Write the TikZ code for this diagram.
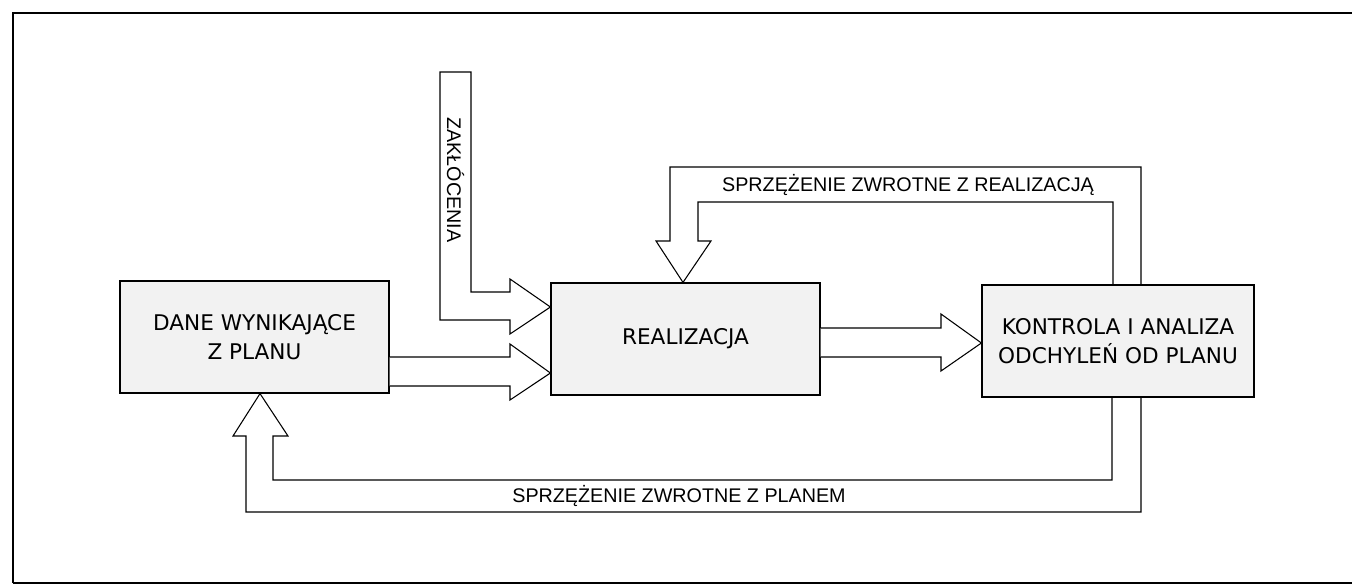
\documentclass[tikz,border=0pt]{standalone}
\usepackage{fontspec}
\setmainfont{Liberation Sans}
\newfontfamily\boxfont{DejaVu Sans}
\usetikzlibrary{calc}
\definecolor{boxfill}{RGB}{242,242,242}
\begin{document}
\begin{tikzpicture}[x=0.75pt,y=-0.75pt,
  box/.style={draw, fill=boxfill, line width=0.9pt, inner sep=0pt, align=center,
    font=\boxfont\fontsize{16.2}{21.5}\selectfont},
  blockarrow/.style={draw, fill=white, line width=0.8pt, line join=miter},
  feed/.style={draw, line width=0.8pt, line join=miter},
  lbl/.style={font=\fontsize{14.8}{17}\selectfont, inner sep=0pt},
  frame/.style={draw, line width=1.6pt}]
\useasboundingbox (0,0) rectangle (1352,585);
\draw[frame] (13,583) -- (13,13) -- (1356,13);
\draw[frame] (13,583) -- (1356,583);

\node[box, minimum width=201.75pt, minimum height=84pt] (plan) at (254.5,337) {DANE WYNIKAJĄCE\\Z PLANU};
\node[box, minimum width=201.75pt, minimum height=84pt] (real) at (685.5,339) {REALIZACJA};
\node[box, minimum width=204pt, minimum height=84pt] (kontr) at (1118,341) {KONTROLA I ANALIZA\\ODCHYLEŃ OD PLANU};

% plan -> realizacja
\draw[blockarrow] (plan.east |- 0,357) -- (510,357) -- (510,344) -- (real.west |- 0,373)
  -- (510,400) -- (510,386) -- (plan.east |- 0,386);

% zaklocenia -> realizacja
\draw[blockarrow] (440,72) -- (471,72) -- (471,292) -- (510,292) -- (510,279)
  -- (real.west |- 0,307) -- (510,334) -- (510,320) -- (440,320) -- cycle;
\node[lbl, rotate=-90] (zak) at (455.5,180) {ZAKŁÓCENIA};

% realizacja -> kontrola
\draw[blockarrow] (real.east |- 0,328) -- (941,328) -- (941,314) -- (kontr.west |- 0,343)
  -- (941,371) -- (941,357) -- (real.east |- 0,357);

% feedback from kontrola to realizacja (top)
\draw[feed] (kontr.north -| 1141,0) -- (1141,167) -- (670,167) -- (670,241) -- (656,241)
  -- (real.north -| 683,0) -- (711,241) -- (698,241) -- (698,202) -- (1113,202)
  -- (kontr.north -| 1113,0);
\node[lbl] (fbr) at (908,185) {SPRZĘŻENIE ZWROTNE Z REALIZACJĄ};

% feedback from kontrola to plan (bottom)
\draw[feed] (kontr.south -| 1112,0) -- (1112,480) -- (273,480) -- (273,436) -- (288,436)
  -- (plan.south -| 260,0) -- (233,436) -- (246,436) -- (246,512) -- (1141,512)
  -- (kontr.south -| 1141,0);
\node[lbl] (fbp) at (679,496) {SPRZĘŻENIE ZWROTNE Z PLANEM};
\end{tikzpicture}
\end{document}
